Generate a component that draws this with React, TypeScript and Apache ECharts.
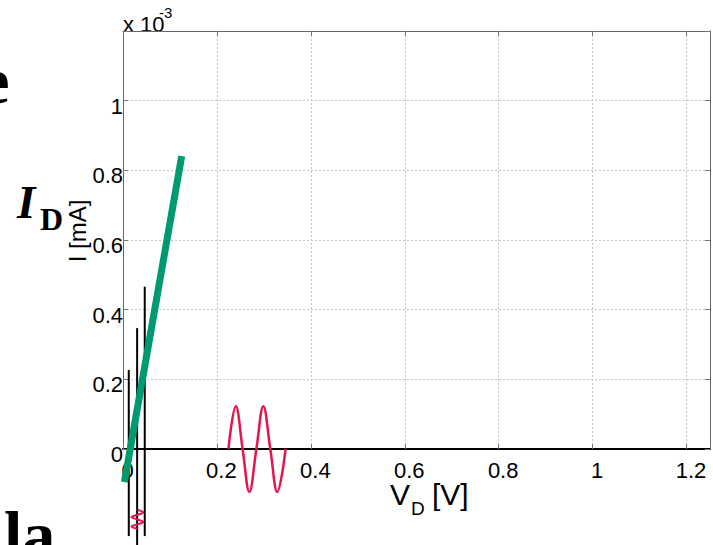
import React, { useEffect, useRef } from "react";
import * as echarts from "echarts";

// axis ranges and ticks
const xRange = [0, 1.25];
const yRange = [0, 1.2];
const xTickValues = [0, 0.2, 0.4, 0.6, 0.8, 1, 1.2];
const xTickLabels = ["0", "0.2", "0.4", "0.6", "0.8", "1", "1.2"];
const yTickValues = [0, 0.2, 0.4, 0.6, 0.8, 1];
const yTickLabels = ["0", "0.2", "0.4", "0.6", "0.8", "1"];

// green characteristic line
const greenLine = [
  [0.003, -0.095],
  [0.125, 0.841],
];
// black vertical lines
const blackLine1 = [
  [0.0123, 0.227],
  [0.0123, -0.25],
];
const blackLine2 = [
  [0.0301, 0.347],
  [0.0301, -0.31],
];
const blackLine3 = [
  [0.0463, 0.466],
  [0.0463, -0.25],
];
// red sine along the V axis (zero crossings and peaks)
const bigWave = [
  [0.2245, 0],
  [0.2402, 0.123],
  [0.2547, 0],
  [0.2691, -0.123],
  [0.284, 0],
  [0.2988, 0.123],
  [0.3137, 0],
  [0.3285, -0.123],
  [0.3463, 0],
];
// small red wave below the axis
const smallWave = [
  [0.0308, -0.1751],
  [0.0435, -0.182],
  [0.0308, -0.1889],
  [0.018, -0.1955],
  [0.0308, -0.2024],
  [0.0435, -0.2093],
  [0.0308, -0.2162],
  [0.018, -0.2228],
  [0.0308, -0.2297],
];

const SANS = "Liberation Sans, Arial, Helvetica, sans-serif";
const SERIF = "Liberation Serif, Times New Roman, serif";

function fmtFrom(values: number[], labels: string[]) {
  return (v: number) => {
    for (let i = 0; i < values.length; i++) {
      if (Math.abs(values[i] - v) < 1e-6) return labels[i];
    }
    return "";
  };
}

export default function App() {
  const ref = useRef<HTMLDivElement>(null);
  useEffect(() => {
    if (!ref.current) return;
    const chart = echarts.init(ref.current, null, { renderer: "svg" });
    const gridLine = { show: true, lineStyle: { color: "#c6c6c6", width: 1, type: [2, 2] as any } };
    const boxLine = { color: "#666", width: 1 };
    const option: any = {
      animation: false,
      backgroundColor: "#ffffff",
      grid: { left: 123, right: 1, top: 31, bottom: 96, containLabel: false },
      xAxis: [
        {
          type: "value",
          min: xRange[0],
          max: xRange[1],
          interval: 0.2,
          position: "bottom",
          axisLine: { show: true, onZero: false, lineStyle: { color: "#000", width: 2 } },
          axisTick: { show: true, inside: true, length: 5, lineStyle: { color: "#777" } },
          axisLabel: {
            formatter: fmtFrom(xTickValues, xTickLabels),
            fontFamily: SANS,
            fontSize: 22,
            color: "#000",
            margin: 10,
            padding: [0, 0, 0, 9],
          },
          splitLine: gridLine,
        },
        {
          type: "value",
          min: xRange[0],
          max: xRange[1],
          interval: 0.2,
          position: "top",
          axisLine: { show: true, onZero: false, lineStyle: boxLine },
          axisTick: { show: true, inside: true, length: 5, lineStyle: { color: "#777" } },
          axisLabel: { show: false },
          splitLine: { show: false },
        },
      ],
      yAxis: [
        {
          type: "value",
          min: yRange[0],
          max: yRange[1],
          interval: 0.2,
          position: "left",
          axisLine: { show: true, onZero: false, lineStyle: boxLine },
          axisTick: { show: true, inside: true, length: 5, lineStyle: { color: "#777" } },
          axisLabel: {
            formatter: fmtFrom(yTickValues, yTickLabels),
            fontFamily: SANS,
            fontSize: 22,
            color: "#000",
            margin: 0,
            verticalAlign: "top",
            lineHeight: 11,
          },
          splitLine: gridLine,
        },
        {
          type: "value",
          min: yRange[0],
          max: yRange[1],
          interval: 0.2,
          position: "right",
          axisLine: { show: true, onZero: false, lineStyle: boxLine },
          axisTick: { show: true, inside: true, length: 5, lineStyle: { color: "#777" } },
          axisLabel: { show: false },
          splitLine: { show: false },
        },
      ],
      series: [
        {
          type: "line",
          data: blackLine1,
          symbol: "none",
          clip: false,
          z: 3,
          lineStyle: { color: "#000", width: 2 },
        },
        {
          type: "line",
          data: blackLine2,
          symbol: "none",
          clip: false,
          z: 3,
          lineStyle: { color: "#000", width: 2 },
        },
        {
          type: "line",
          data: blackLine3,
          symbol: "none",
          clip: false,
          z: 3,
          lineStyle: { color: "#000", width: 2 },
        },
        {
          type: "line",
          data: greenLine,
          symbol: "none",
          clip: false,
          z: 5,
          lineStyle: { color: "#009a70", width: 7, cap: "butt" },
        },
        {
          type: "line",
          data: bigWave,
          symbol: "none",
          smooth: 0.4,
          clip: false,
          z: 6,
          lineStyle: { color: "#e3174f", width: 2.5 },
        },
        {
          type: "line",
          data: smallWave,
          symbol: "none",
          smooth: 0.4,
          clip: false,
          z: 6,
          lineStyle: { color: "#e3174f", width: 2 },
        },
      ],
      graphic: [
        {
          type: "text",
          x: 123,
          y: 24.5,
          style: { text: "x 10", font: `22px ${SANS}`, fill: "#000", align: "left", verticalAlign: "middle" },
        },
        {
          type: "text",
          x: 159,
          y: 12.5,
          style: { text: "-3", font: `15px ${SANS}`, fill: "#000", align: "left", verticalAlign: "middle" },
        },
        {
          type: "text",
          x: 390,
          y: 494.6,
          style: { text: "V", font: `30px ${SANS}`, fill: "#000", align: "left", verticalAlign: "middle" },
        },
        {
          type: "text",
          x: 411,
          y: 508.4,
          style: { text: "D", font: `19px ${SANS}`, fill: "#000", align: "left", verticalAlign: "middle" },
        },
        {
          type: "text",
          x: 432,
          y: 494.6,
          style: { text: "[V]", font: `30px ${SANS}`, fill: "#000", align: "left", verticalAlign: "middle" },
        },
        {
          type: "text",
          x: 77,
          y: 231,
          rotation: Math.PI / 2,
          style: { text: "I [mA]", font: `24px ${SANS}`, fill: "#000", align: "center", verticalAlign: "middle" },
        },
        {
          type: "text",
          x: 9.5,
          y: 80.7,
          style: { text: "e", font: `bold 66px ${SERIF}`, fill: "#000", align: "right", verticalAlign: "middle" },
        },
        {
          type: "text",
          x: 17,
          y: 202,
          style: { text: "I", font: `italic bold 47px ${SERIF}`, fill: "#000", align: "left", verticalAlign: "middle" },
        },
        {
          type: "text",
          x: 40,
          y: 219.2,
          style: { text: "D", font: `bold 32px ${SERIF}`, fill: "#000", align: "left", verticalAlign: "middle" },
        },
        {
          type: "text",
          x: 4,
          y: 534.7,
          style: { text: "la", font: `bold 66px ${SERIF}`, fill: "#000", align: "left", verticalAlign: "middle" },
        },
      ],
    };
    chart.setOption(option);
    return () => {
      chart.dispose();
    };
  }, []);
  return (
    <div
      ref={ref}
      style={{ position: "absolute", left: 0, top: 0, width: 713, height: 545, background: "#fff" }}
    />
  );
}
